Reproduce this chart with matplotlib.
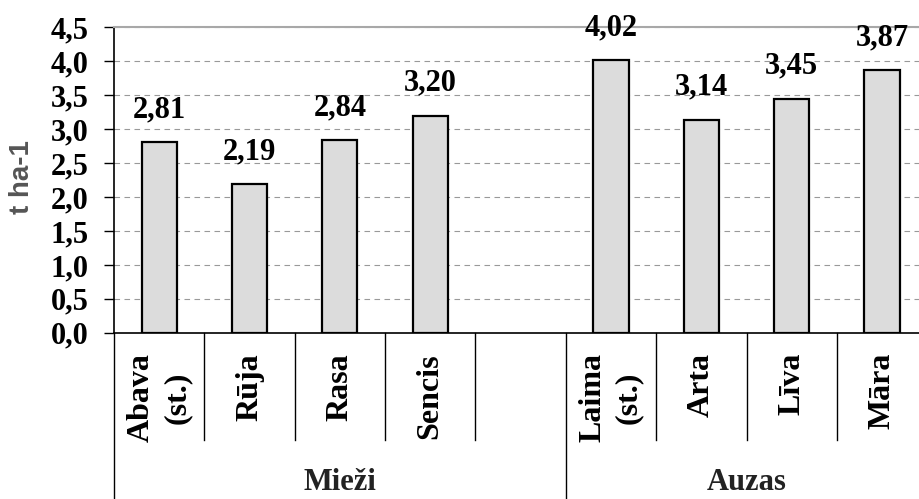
import matplotlib
matplotlib.use("Agg")
from matplotlib import pyplot as plt
from matplotlib.ticker import FuncFormatter

# data
categories = ["Abava\n(st.)", "Rūja", "Rasa", "Sencis", "",
              "Laima\n(st.)", "Arta", "Līva", "Māra"]
values = [2.81, 2.19, 2.84, 3.20, None, 4.02, 3.14, 3.45, 3.87]
groups = ["Mieži", "Auzas"]
group_sizes = [5, 4]
y_ticks = [0.0, 0.5, 1.0, 1.5, 2.0, 2.5, 3.0, 3.5, 4.0, 4.5]

SERIF = "Liberation Serif"
SANS = "Liberation Sans"


def comma(v, _pos=None):
    return f"{v:.1f}".replace(".", ",")


fig = plt.figure(figsize=(9.19, 4.99), dpi=100)
ax = fig.add_axes([0.124, 0.333, 0.885, 0.612])

xs = [i for i, v in enumerate(values) if v is not None]
hs = [v for v in values if v is not None]
ax.bar(xs, hs, width=0.39, color="#dcdcdc", edgecolor="black", linewidth=1.6, zorder=3)

for x, h in zip(xs, hs):
    ax.annotate(f"{h:.2f}".replace(".", ","), (x, h), xytext=(0, 13), textcoords="offset points",
                ha="center", va="bottom", fontsize=22, fontweight="bold", family=SERIF, zorder=4)

ax.set_xlim(-0.5, len(categories) - 0.5)
ax.set_ylim(0, 4.5)
ax.set_yticks(y_ticks)
ax.yaxis.set_major_formatter(FuncFormatter(comma))
ax.tick_params(axis="y", direction="out", length=7, width=1, pad=11, labelsize=22)
for lab in ax.get_yticklabels():
    lab.set_family(SERIF)
    lab.set_fontweight("bold")
ax.set_xticks([])

# dashed gridlines
ax.yaxis.grid(True, linestyle=(0, (5, 4)), color="#999999", linewidth=0.8, zorder=0)
ax.set_axisbelow(True)

ax.spines["right"].set_visible(False)
ax.spines["top"].set_color("#a8a8a8")
ax.spines["top"].set_linewidth(1.5)
ax.spines["left"].set_linewidth(1.2)
ax.spines["bottom"].set_linewidth(1.2)

# category labels and separator lines below the axis
trans = ax.get_xaxis_transform()
for i, name in enumerate(categories):
    if name:
        ax.text(i, -0.066, name, transform=trans, rotation=90, ha="center", va="top",
                multialignment="center", fontsize=23, fontweight="bold", family=SERIF,
                linespacing=1.3)

edges = [0]
for n in group_sizes:
    edges.append(edges[-1] + n)
for k in range(len(categories) + 1):
    x = k - 0.5
    bottom = -0.56 if k in edges else -0.35
    ax.plot([x, x], [0, bottom], transform=trans, color="black", linewidth=1.0, clip_on=False)

# group labels
for g, start, end in zip(groups, edges[:-1], edges[1:]):
    ax.text((start + end - 1) / 2, -0.49, g, transform=trans, ha="center", va="center",
            fontsize=22, fontweight="bold", family=SERIF, color="#222222")

fig.text(0.024, 0.645, "t ha-1", rotation=90, ha="center", va="center",
         fontsize=20, fontweight="bold", family=SANS, color="#555555")

fig.savefig("out.png", dpi=100)
